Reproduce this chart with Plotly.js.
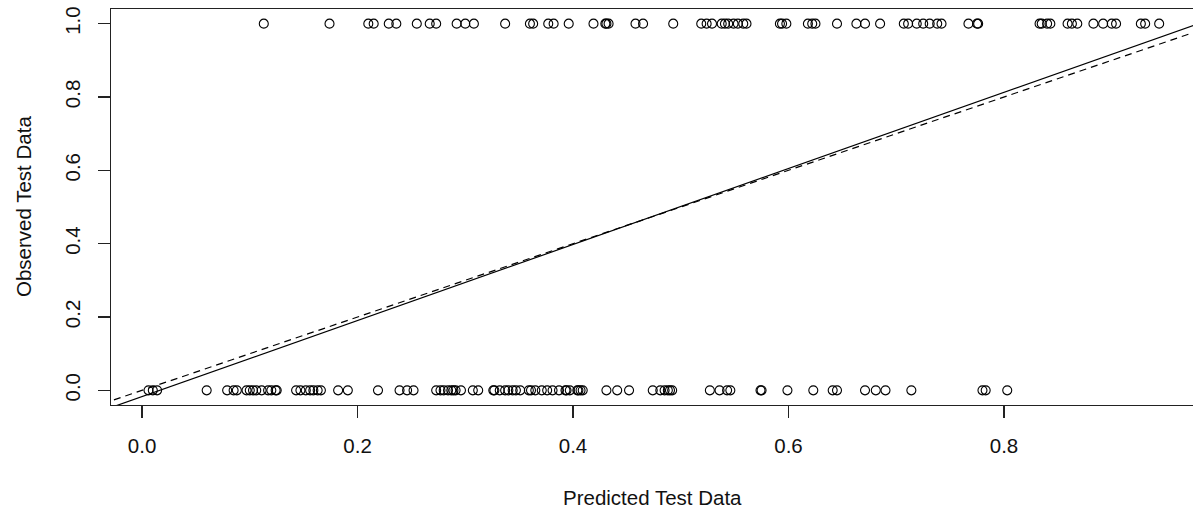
<!DOCTYPE html>
<html>
<head>
<meta charset="utf-8">
<script src="https://cdn.plot.ly/plotly-3.0.1.min.js"></script>
<style>html,body{margin:0;padding:0;background:#fff;}#chart{width:1193px;height:510px;}</style>
</head>
<body>
<div id="chart"></div>
<script>
// Predicted probabilities for observations with observed value 1
var predictedObs1 = [0.113,0.174,0.210,0.215,0.229,0.236,0.255,0.267,0.273,0.292,0.300,0.308,
  0.337,0.360,0.363,0.377,0.382,0.396,0.419,0.430,0.431,0.433,0.458,0.465,0.493,
  0.519,0.524,0.529,0.538,0.541,0.544,0.549,0.553,0.558,0.561,
  0.592,0.594,0.598,0.618,0.622,0.625,0.645,0.663,0.671,0.685,
  0.707,0.711,0.719,0.725,0.731,0.738,0.742,0.767,0.775,0.776,
  0.833,0.835,0.840,0.843,0.859,0.863,0.868,0.883,0.892,0.900,0.904,0.927,0.931,0.944];
// Predicted probabilities for observations with observed value 0
var predictedObs0 = [0.006,0.010,0.014,0.060,0.079,0.085,0.088,0.097,0.100,0.103,0.106,0.111,0.117,0.120,0.124,0.125,
  0.143,0.147,0.152,0.156,0.159,0.163,0.166,0.182,0.191,0.219,0.239,0.246,0.252,
  0.273,0.277,0.280,0.284,0.287,0.289,0.291,0.296,0.307,0.312,
  0.326,0.327,0.332,0.337,0.340,0.344,0.347,0.351,0.359,0.361,0.365,0.371,0.376,0.381,0.387,
  0.393,0.394,0.397,0.404,0.405,0.407,0.409,0.431,0.441,0.452,
  0.474,0.481,0.485,0.488,0.490,0.492,0.527,0.536,0.543,0.546,0.574,0.575,0.599,0.623,
  0.641,0.645,0.671,0.681,0.690,0.714,0.780,0.783,0.803];
// Reference lines: fitted (solid) and identity (dashed)
var fitLine = {intercept: -0.017, slope: 1.037};
var identityLine = {intercept: 0, slope: 1};
var xTickVals = [0.0,0.2,0.4,0.6,0.8];
var xTickText = ["0.0","0.2","0.4","0.6","0.8"];
var yTickVals = [0.0,0.2,0.4,0.6,0.8,1.0];
var yTickText = ["0.0","0.2","0.4","0.6","0.8","1.0"];

var xRange = [-0.0288, 0.9754];
var yRange = [-0.04, 1.04];

var xs = predictedObs1.concat(predictedObs0);
var ys = predictedObs1.map(function(){return 1;}).concat(predictedObs0.map(function(){return 0;}));

function lineTrace(c, dash){
  var lx = [xRange[0]-0.05, xRange[1]+0.05];
  return {x: lx, y: lx.map(function(v){return c.intercept + c.slope*v;}),
    mode:'lines', type:'scatter', line:{color:'#000', width:1.2, dash:dash}, hoverinfo:'skip'};
}

var data = [
  {x: xs, y: ys, mode:'markers', type:'scatter',
   marker:{symbol:'circle-open', size:9, color:'#000', line:{width:1.1, color:'#000'}}},
  lineTrace(fitLine, 'solid'),
  lineTrace(identityLine, '7px,5px')
];

var font = {family:'"Liberation Sans", Arial, sans-serif', size:20.5, color:'#111'};
var layout = {
  width:1193, height:510,
  margin:{l:111, r:0, t:9, b:105, pad:0},
  paper_bgcolor:'#fff', plot_bgcolor:'#fff',
  showlegend:false,
  font: font,
  xaxis:{range:xRange, showgrid:false, zeroline:false, showline:true, mirror:true,
    linecolor:'#222', linewidth:1.2, ticks:'outside', ticklen:12, tickwidth:1.2, tickcolor:'#222',
    tickvals:xTickVals, ticktext:xTickText, tickfont:font, ticklabelstandoff:10},
  yaxis:{range:yRange, showgrid:false, zeroline:false, showline:true, mirror:false,
    linecolor:'#222', linewidth:1.2, ticks:'outside', ticklen:12, tickwidth:1.2, tickcolor:'#222',
    tickvals:yTickVals, ticktext:yTickText, tickfont:font, tickangle:-90, ticklabelstandoff:10},
  annotations:[
    {text:'Predicted Test Data', xref:'paper', yref:'paper', x:(652-111)/1082, y:(405-497)/396,
     xanchor:'center', yanchor:'middle', showarrow:false, font:font},
    {text:'Observed Test Data', xref:'paper', yref:'paper', x:(23-111)/1082, y:0.5,
     xanchor:'center', yanchor:'middle', textangle:-90, showarrow:false, font:font}
  ]
};

Plotly.newPlot('chart', data, layout, {staticPlot:true, displayModeBar:false});
</script>
</body>
</html>
